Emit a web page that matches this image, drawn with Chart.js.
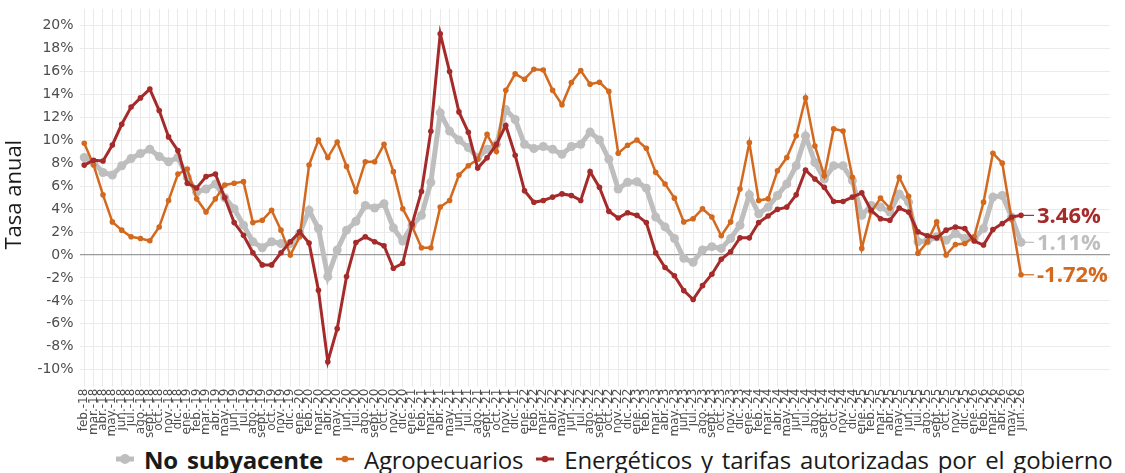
<!DOCTYPE html>
<html><head><meta charset="utf-8">
<script src="https://cdn.jsdelivr.net/npm/chart.js@4"></script>
<style>
html,body{margin:0;padding:0;background:#fff;}
#wrap{position:relative;width:1125px;height:473px;}
#c{position:absolute;left:0;top:0;}
#legend{position:absolute;top:444px;left:115px;height:30px;display:flex;align-items:center;font-family:'Open Sans',sans-serif;font-size:24px;color:#1a1a1a;white-space:nowrap;letter-spacing:-0.2px;word-spacing:3px;}
#legend .it{display:flex;align-items:center;margin-right:12px;}
#legend svg{margin-right:9px;}
</style>
</head><body>
<div id="wrap"><canvas id="c" width="1125" height="440"></canvas><div id="legend"></div></div>
<script>
const categories = [
'feb.-18','mar.-18','abr.-18','may.-18','jun.-18','jul.-18','ago.-18','sept.-18','oct.-18','nov.-18','dic.-18',
'ene.-19','feb.-19','mar.-19','abr.-19','may.-19','jun.-19','jul.-19','ago.-19','sept.-19','oct.-19','nov.-19','dic.-19',
'ene.-20','feb.-20','mar.-20','abr.-20','may.-20','jun.-20','jul.-20','ago.-20','sept.-20','oct.-20','nov.-20','dic.-20',
'ene.-21','feb.-21','mar.-21','abr.-21','may.-21','jun.-21','jul.-21','ago.-21','sept.-21','oct.-21','nov.-21','dic.-21',
'ene.-22','feb.-22','mar.-22','abr.-22','may.-22','jun.-22','jul.-22','ago.-22','sept.-22','oct.-22','nov.-22','dic.-22',
'ene.-23','feb.-23','mar.-23','abr.-23','may.-23','jun.-23','jul.-23','ago.-23','sept.-23','oct.-23','nov.-23','dic.-23',
'ene.-24','feb.-24','mar.-24','abr.-24','may.-24','jun.-24','jul.-24','ago.-24','sept.-24','oct.-24','nov.-24','dic.-24',
'ene.-25','feb.-25','mar.-25','abr.-25','may.-25','jun.-25','jul.-25','ago.-25','sept.-25','oct.-25','nov.-25','dic.-25',
'ene.-26','feb.-26','mar.-26','abr.-26','may.-26','jun.-26'];

const noSubyacente = [8.5,8.07,7.2,6.98,7.79,8.42,8.85,9.22,8.59,8.13,8.5,
6.78,5.48,5.76,6.2,5.0,4.04,2.6,1.16,0.64,1.16,1.01,1.0,
1.9,3.9,2.31,-1.87,0.44,2.17,2.95,4.33,4.1,4.47,2.37,1.22,
2.6,3.46,6.34,12.4,10.81,10.03,9.37,8.5,9.22,9.65,12.68,11.82,
9.65,9.28,9.46,9.22,8.79,9.46,9.65,10.72,10.03,8.36,5.76,6.34,
6.4,5.83,3.32,2.45,1.44,-0.28,-0.63,0.44,0.73,0.58,1.44,2.6,
5.25,3.6,4.18,5.19,6.2,7.79,10.38,8.07,6.63,7.79,7.79,6.49,
3.46,4.33,4.18,3.75,5.33,4.61,1.16,1.22,1.59,1.3,1.88,1.44,
1.44,2.31,5.05,5.19,3.32,1.11];

const agropecuarios = [9.74,7.84,5.25,2.89,2.17,1.59,1.44,1.24,2.45,4.76,7.06,
7.5,4.9,3.75,4.9,6.11,6.26,6.4,2.83,3.03,3.9,2.17,0.0,
1.59,7.84,10.03,8.5,9.86,7.73,5.54,8.13,8.13,9.65,7.27,4.04,
2.5,0.64,0.64,4.18,4.76,6.98,7.79,8.36,10.52,9.02,14.36,15.8,
15.33,16.2,16.14,14.36,13.1,15.05,16.08,14.9,15.07,14.27,8.88,9.57,
10.03,9.31,7.21,6.2,4.96,2.89,3.17,4.04,3.32,1.68,2.89,5.76,
9.8,4.76,4.9,7.35,8.5,10.4,13.7,9.51,6.92,11.0,10.81,6.78,
0.58,3.75,4.96,4.1,6.78,5.13,0.15,1.16,2.89,0.0,0.92,1.01,
1.59,4.61,8.88,8.01,3.1,-1.72];

const energeticos = [7.84,8.27,8.2,9.6,11.4,12.9,13.7,14.47,12.6,10.3,9.1,
6.26,5.85,6.84,7.06,5.0,2.83,1.73,0.2,-0.86,-0.86,0.2,1.16,
2.02,1.05,-3.08,-9.3,-6.42,-1.87,1.1,1.59,1.16,0.81,-1.15,-0.72,
2.7,5.54,10.8,19.3,16.0,12.48,10.7,7.58,8.48,9.65,11.3,8.7,
5.6,4.6,4.76,5.05,5.33,5.19,4.76,7.27,5.9,3.81,3.23,3.69,
3.46,2.83,0.2,-1.09,-1.8,-3.1,-3.88,-2.67,-1.67,-0.37,0.29,1.5,
1.5,2.83,3.4,3.98,4.18,5.25,7.4,6.63,5.9,4.67,4.67,5.05,
5.42,3.9,3.17,3.03,4.1,3.75,2.02,1.68,1.5,2.17,2.45,2.31,
1.22,0.87,2.22,2.74,3.32,3.46];

const seriesNames = ['No subyacente','Agropecuarios','Energéticos y tarifas autorizadas por el gobierno'];
const seriesColors = ['#bebebe','#d2691e','#a52a2a'];
const yTickValues = [-10,-8,-6,-4,-2,0,2,4,6,8,10,12,14,16,18,20];
const yAxisTitle = 'Tasa anual';
const extraSlots = 9;

const paddedLabels = categories.concat(new Array(extraSlots).fill(''));
const lastIdx = categories.length - 1;

Chart.defaults.font.family = "'DejaVu Sans', sans-serif";

const endLabels = {
  id: 'endLabels',
  afterDatasetsDraw(chart) {
    const ctx = chart.ctx;
    chart.data.datasets.forEach((ds, i) => {
      const meta = chart.getDatasetMeta(i);
      const n = ds.data.length - 1;
      const pt = meta.data[n];
      ctx.save();
      ctx.strokeStyle = ds.borderColor;
      ctx.lineWidth = 1.2;
      ctx.beginPath();
      ctx.moveTo(pt.x, pt.y);
      ctx.lineTo(pt.x + 13, pt.y);
      ctx.stroke();
      ctx.font = "bold 22px 'Open Sans', sans-serif";
      ctx.fillStyle = ds.borderColor;
      ctx.textBaseline = 'middle';
      ctx.textAlign = 'left';
      ctx.fillText(ds.data[n].toFixed(2) + '%', pt.x + 16, pt.y + 1);
      ctx.restore();
    });
  }
};

const styles = [
  {bw: 5, pr: 4.5},
  {bw: 2.5, pr: 2.8},
  {bw: 3, pr: 2.8}
];
const seriesData = [noSubyacente, agropecuarios, energeticos];

const datasets = seriesData.map((d, i) => ({
  label: seriesNames[i],
  data: d,
  borderColor: seriesColors[i],
  backgroundColor: seriesColors[i],
  borderWidth: styles[i].bw,
  pointRadius: styles[i].pr,
  pointBorderWidth: 0,
  pointHoverRadius: styles[i].pr,
  tension: 0,
  order: 2 - i
}));

new Chart(document.getElementById('c'), {
  type: 'line',
  data: { labels: paddedLabels, datasets },
  options: {
    responsive: false,
    animation: false,
    events: [],
    layout: { padding: { top: 5, left: 2, right: 15, bottom: 0 } },
    plugins: { legend: { display: false }, tooltip: { enabled: false } },
    scales: {
      x: {
        offset: true,
        border: { display: false },
        grid: {
          color: c => (c.index <= lastIdx ? '#e9e9e9' : 'rgba(0,0,0,0)'),
          lineWidth: 1,
          drawTicks: true,
          tickLength: 6
        },
        ticks: {
          autoSkip: false,
          maxRotation: 90,
          minRotation: 90,
          padding: 2,
          color: '#4d4d4d',
          font: { size: 12 }
        }
      },
      y: {
        min: -10.95,
        max: 21.47,
        border: { display: false },
        afterBuildTicks: s => { s.ticks = yTickValues.map(v => ({ value: v })); },
        grid: {
          color: c => (c.tick && c.tick.value === 0 ? '#9a9a9a' : '#ebebeb'),
          lineWidth: c => (c.tick && c.tick.value === 0 ? 1.3 : 1),
          drawTicks: false
        },
        ticks: {
          padding: 6,
          color: '#4d4d4d',
          font: { size: 14, lineHeight: 0.4 },
          callback: v => v + '%'
        },
        title: {
          display: true,
          text: yAxisTitle,
          color: '#1a1a1a',
          font: { size: 22, family: "'Open Sans', sans-serif" },
          padding: { top: 0, bottom: 3 }
        }
      }
    }
  },
  plugins: [endLabels]
});

// HTML legend built from the series definitions
const leg = document.getElementById('legend');
seriesNames.forEach((name, i) => {
  const it = document.createElement('div');
  it.className = 'it';
  const lw = styles[i].bw, r = styles[i].pr + 0.5;
  it.innerHTML = '<svg width="20" height="14"><line x1="1" y1="7" x2="19" y2="7" stroke="' + seriesColors[i] +
    '" stroke-width="' + lw + '"/><circle cx="10" cy="7" r="' + r + '" fill="' + seriesColors[i] + '"/></svg>';
  const sp = document.createElement('span');
  sp.textContent = name;
  if (i === 0) sp.style.fontWeight = 'bold';
  it.appendChild(sp);
  leg.appendChild(it);
});
</script>
</body></html>
